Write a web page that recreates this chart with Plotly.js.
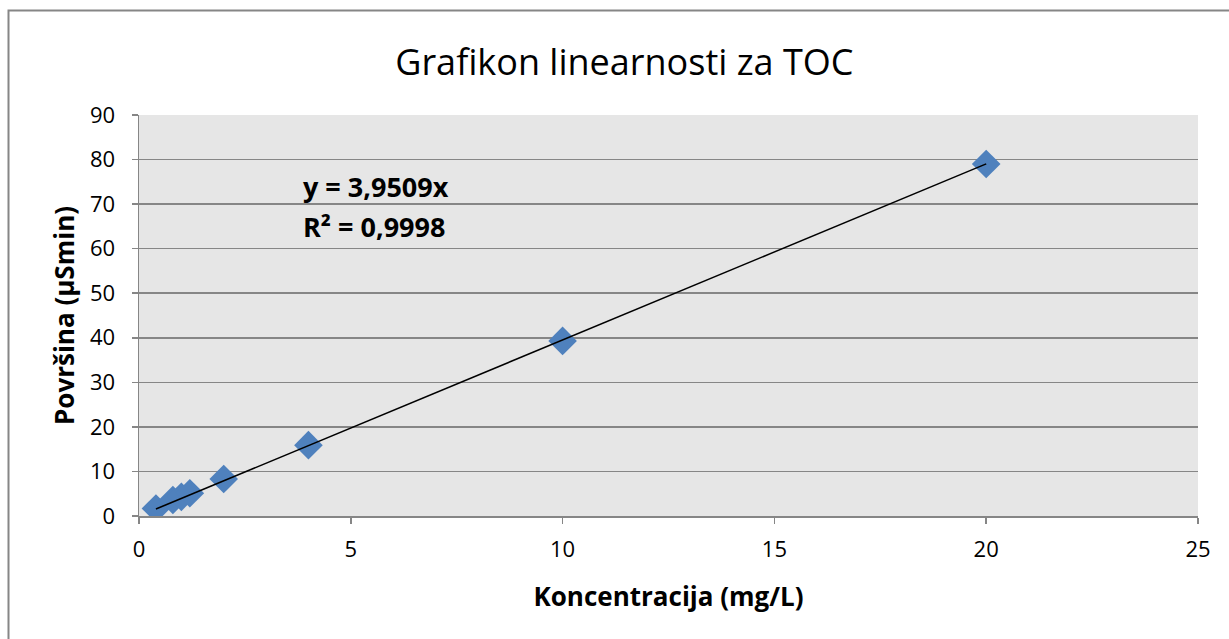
<!DOCTYPE html>
<html><head><meta charset="utf-8">
<script src="https://cdn.plot.ly/plotly-3.0.1.min.js"></script>
<style>body{margin:0;background:#fff}#chart{width:1229px;height:639px}</style>
</head><body><div id="chart"></div>
<script>
const concentration = [0.4, 0.8, 1.0, 1.2, 2, 4, 10, 20];
const area = [1.7, 3.6, 4.3, 5.1, 8.3, 15.9, 39.3, 79.0];
const slope = 3.9509;
const equationText = "y = 3,9509x";
const r2Text = "R² = 0,9998";
const titleText = "Grafikon linearnosti za TOC";
const xTitle = "Koncentracija (mg/L)";
const yTitle = "Površina (µSmin)";

const xMin = Math.min(...concentration), xMax = Math.max(...concentration);
const trendX = [xMin, xMax];
const trendY = trendX.map(v => slope * v);

const font = "Open Sans, Liberation Sans, sans-serif";
const data = [
  {x: concentration, y: area, mode: 'markers', type: 'scatter',
   marker: {symbol: 'diamond', size: 22, color: '#4f81bd', line: {width: 0}}, hoverinfo: 'skip'},
  {x: trendX, y: trendY, mode: 'lines', type: 'scatter',
   line: {color: '#000', width: 1.5}, hoverinfo: 'skip'}
];
const W = 1229, H = 639, L = 139, R = 31, T = 115, B = 123;
const pw = W - L - R, ph = H - T - B;
const layout = {
  width: W, height: H, showlegend: false,
  margin: {l: L, r: R, t: T, b: B},
  paper_bgcolor: '#fff', plot_bgcolor: '#e6e6e6',
  title: {text: titleText, x: 0.508, xanchor: 'center', y: 1 - 62/H, yanchor: 'middle',
          font: {family: font, size: 36, color: '#000'}},
  xaxis: {range: [0, 25], dtick: 5, tick0: 0, showgrid: false, zeroline: false,
          showline: true, linecolor: '#868686', linewidth: 1.5,
          ticks: 'outside', ticklen: 6, tickcolor: '#868686', tickwidth: 1.5,
          ticklabelstandoff: 7,
          tickfont: {family: font, size: 22, color: '#000'},
          title: {text: '<b>' + xTitle + '</b>', standoff: 26, font: {family: font, size: 26, color: '#000'}}},
  yaxis: {range: [0, 90], dtick: 10, tick0: 0, showgrid: true, gridcolor: '#868686', gridwidth: 1.5,
          zeroline: false, showline: true, linecolor: '#868686', linewidth: 1.5,
          ticks: 'outside', ticklen: 6, tickcolor: '#868686', tickwidth: 1.5,
          ticklabelstandoff: 12,
          tickfont: {family: font, size: 22, color: '#000'},
          title: {text: '<b>' + yTitle + '</b>', standoff: 8, font: {family: font, size: 26, color: '#000'}}},
  annotations: [
    {xref: 'paper', yref: 'paper', x: (301 - L)/pw, y: (T + ph - 186)/ph, xanchor: 'left', yanchor: 'middle',
     text: '<b>' + equationText + '</b>', showarrow: false, font: {family: font, size: 27, color: '#000'}},
    {xref: 'paper', yref: 'paper', x: (301 - L)/pw, y: (T + ph - 226)/ph, xanchor: 'left', yanchor: 'middle',
     text: '<b>' + r2Text + '</b>', showarrow: false, font: {family: font, size: 27, color: '#000'}}
  ],
  shapes: [
    {type: 'rect', xref: 'paper', yref: 'paper', layer: 'below',
     x0: (8.5 - L)/pw, x1: (W + 20 - L)/pw, y0: (T + ph - (H + 20))/ph, y1: (T + ph - 10.5)/ph,
     line: {color: '#868686', width: 2}, fillcolor: 'rgba(0,0,0,0)'}
  ]
};
Plotly.newPlot('chart', data, layout, {staticPlot: true});
</script></body></html>
